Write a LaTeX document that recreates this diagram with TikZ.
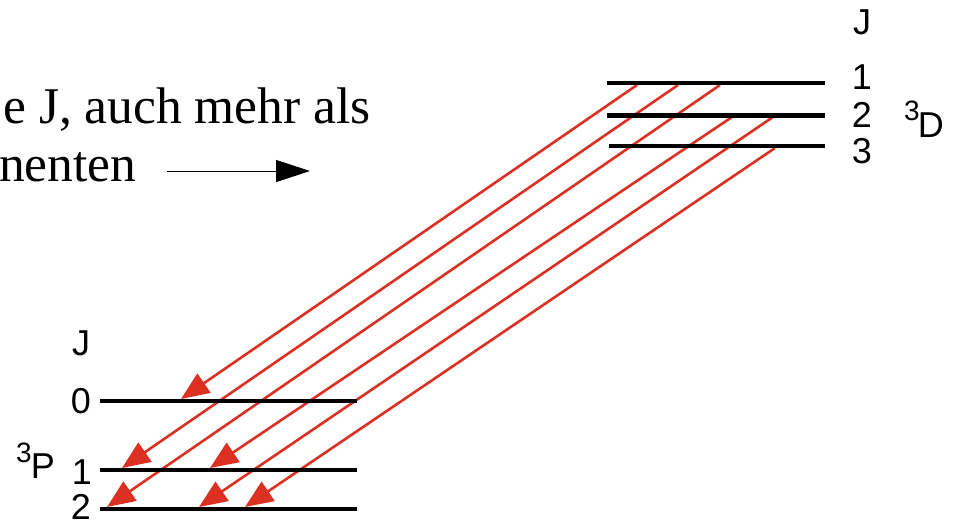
\documentclass[tikz,border=0pt]{standalone}
\usepackage{fontspec}
\setmainfont{Liberation Serif}
\newfontfamily\hv{Liberation Sans}
\usetikzlibrary{arrows.meta}
\definecolor{transred}{HTML}{DC3122}
\begin{document}
\begin{tikzpicture}[x=1pt,y=-1pt,
  level/.style={line width=4pt,black},
  trans/.style={transred,line width=2.6pt,-{Triangle[length=28pt,width=23pt]}},
  lab/.style={font=\hv\fontsize{36}{36}\selectfont,inner sep=0pt},
  serif/.style={font=\fontsize{51.5}{51.5}\selectfont,inner sep=0pt}]
\useasboundingbox (0,0) rectangle (954,523);
% levels 3D
\coordinate (D1w) at (607,83); \coordinate (D1e) at (825,83);
\coordinate (D2w) at (607,115); \coordinate (D2e) at (825,115);
\coordinate (D3w) at (609,146); \coordinate (D3e) at (825,146);
% levels 3P
\coordinate (P0w) at (100,401); \coordinate (P0e) at (357,401);
\coordinate (P1w) at (100,470); \coordinate (P1e) at (357,470);
\coordinate (P2w) at (100,509); \coordinate (P2e) at (357,509);
% transition endpoints
\coordinate (s1) at (637,85); \coordinate (e1) at (181,399);
\coordinate (s2) at (678,85); \coordinate (e2) at (122,468);
\coordinate (s3) at (720,85); \coordinate (e3) at (107,507);
\coordinate (s4) at (732,117); \coordinate (e4) at (210,468);
\coordinate (s5) at (773,117); \coordinate (e5) at (199,507);
\coordinate (s6) at (775,148); \coordinate (e6) at (245,507);
\foreach \i in {1,...,6} \draw[trans] (s\i) -- (e\i);
\draw[level,line width=3.5pt] (D1w) -- (D1e);
\draw[level,line width=5pt] (D2w) -- (D2e);
\draw[level] (D3w) -- (D3e);
\draw[level] (P0w) -- (P0e);
\draw[level] (P1w) -- (P1e);
\draw[level] (P2w) -- (P2e);
% labels upper
\node[lab] (uJ) at (862,22) {J};
\node[lab] (u1) at (862,77) {1};
\node[lab] (u2) at (862,115) {2};
\node[lab] (u3) at (862,151) {3};
\node[lab,anchor=base west] (uD) at (904,137) {\raisebox{17pt}{\fontsize{28}{28}\selectfont 3}\kern-2pt D};
% labels lower
\node[lab] (lJ) at (81,343) {J};
\node[lab] (l0) at (81,401) {0};
\node[lab] (l1) at (82,472) {1};
\node[lab] (l2) at (81,507) {2};
\node[lab,anchor=base west] (lP) at (16,478) {\raisebox{16pt}{\fontsize{28}{28}\selectfont 3}\kern-1pt P};
% serif text
\node[serif,anchor=base east] (t1) at (371,123) {e J, auch mehr als};
\node[serif,anchor=base west] (t2) at (-1,181) {nenten};
\coordinate (aw) at (167,171); \coordinate (ae) at (310,171);
\draw[line width=1pt,-{Triangle[length=34pt,width=22pt]}] (aw) -- (ae);
\end{tikzpicture}
\end{document}
